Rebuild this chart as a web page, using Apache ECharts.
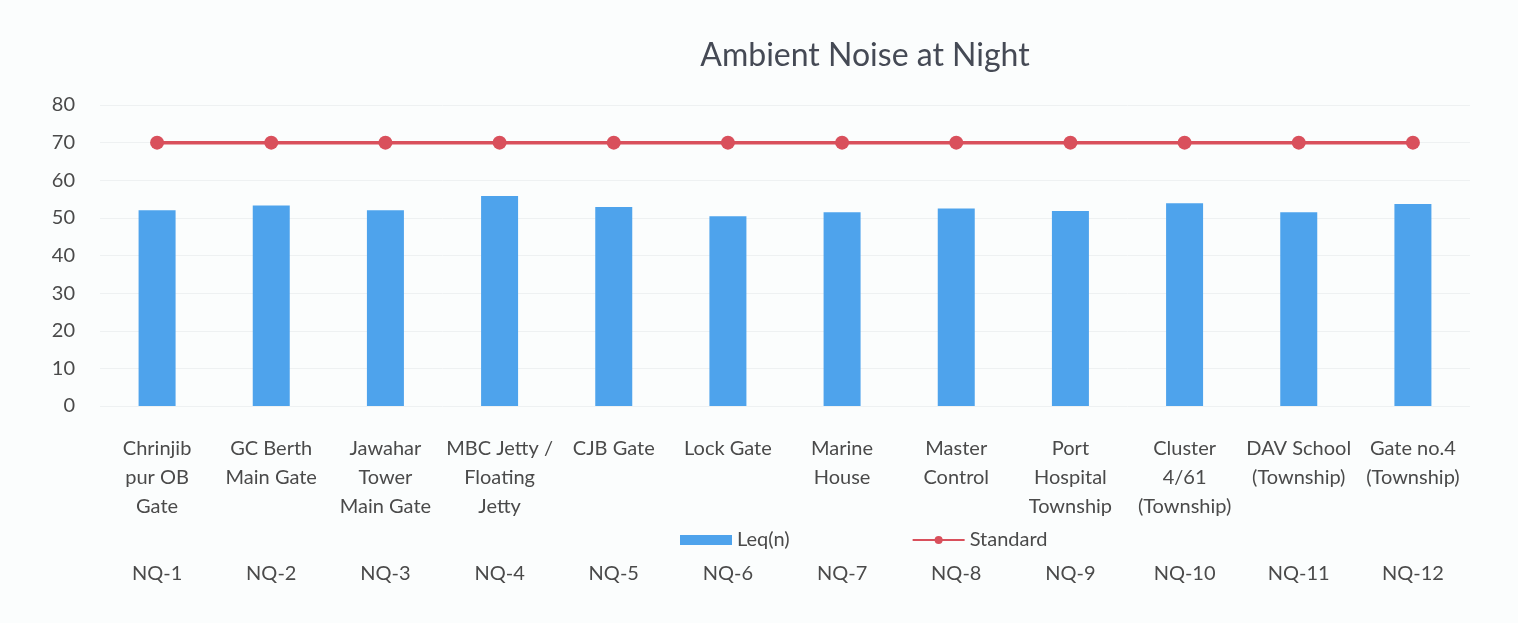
<!DOCTYPE html>
<html>
<head>
<meta charset="UTF-8"/>
<script src="https://cdn.jsdelivr.net/npm/echarts@6/dist/echarts.min.js"></script>
<style>
  html, body { margin: 0; padding: 0; background: #fbfdfd; }
  #c { width: 1518px; height: 623px; }
</style>
</head>
<body>
<div id="c"></div>
<script>
// site names (axis labels), station codes and readings
const sites = [
  "Chrinjib\npur OB\nGate", "GC Berth\nMain Gate", "Jawahar\nTower\nMain Gate",
  "MBC Jetty /\nFloating\nJetty", "CJB Gate", "Lock Gate", "Marine\nHouse",
  "Master\nControl", "Port\nHospital\nTownship", "Cluster\n4/61\n(Township)",
  "DAV School\n(Township)", "Gate no.4\n(Township)"
];
const codes = ["NQ-1", "NQ-2", "NQ-3", "NQ-4", "NQ-5", "NQ-6", "NQ-7", "NQ-8", "NQ-9", "NQ-10", "NQ-11", "NQ-12"];
const leq = [52.0, 53.3, 52.0, 55.8, 52.9, 50.4, 51.5, 52.5, 51.8, 53.9, 51.5, 53.7];
const standard = [70, 70, 70, 70, 70, 70, 70, 70, 70, 70, 70, 70];
const yTicks = [0, 80, 10]; // min, max, interval

const font = "Lato";
const txt = "#4a4a4a";
const chart = echarts.init(document.getElementById("c"), null, { renderer: "canvas" });

chart.setOption({
  backgroundColor: "#fbfdfd",
  animation: false,
  textStyle: { fontFamily: font },
  title: {
    text: "Ambient Noise at Night",
    top: 35,
    left: 860,
    textAlign: "center",
    textStyle: { fontFamily: font, fontSize: 32, fontWeight: "normal", color: "#454a55" }
  },
  legend: {
    top: 525,
    left: 675,
    itemGap: 122,
    itemWidth: 52,
    itemHeight: 10,
    textStyle: { fontFamily: font, fontSize: 20, color: txt },
    data: [
      { name: "Leq(n)", icon: "rect" },
      { name: "Standard" }
    ]
  },
  grid: { left: 100, right: 48, top: 105, bottom: 217 },
  xAxis: [
    {
      type: "category",
      data: sites,
      axisLine: { show: false },
      axisTick: { show: false },
      axisLabel: {
        interval: 0, margin: 28, fontSize: 20, lineHeight: 29,
        color: txt, fontFamily: font
      }
    },
    {
      type: "category",
      data: codes,
      position: "bottom",
      axisLine: { show: false },
      axisTick: { show: false },
      axisLabel: {
        interval: 0, margin: 158, fontSize: 20, color: txt, fontFamily: font
      }
    }
  ],
  yAxis: {
    type: "value",
    min: yTicks[0], max: yTicks[1], interval: yTicks[2],
    axisLine: { show: false },
    axisTick: { show: false },
    axisLabel: { fontSize: 20, color: txt, margin: 25, fontFamily: font },
    splitLine: { lineStyle: { color: "#eef1f2", width: 1 } }
  },
  series: [
    {
      name: "Leq(n)",
      type: "bar",
      xAxisIndex: 0,
      data: leq,
      barWidth: 37,
      itemStyle: { color: "#4ea3ec" },
      z: 2
    },
    {
      name: "Standard",
      type: "line",
      xAxisIndex: 0,
      data: standard,
      symbol: "circle",
      symbolSize: 14,
      lineStyle: { color: "#d9505c", width: 3.5 },
      itemStyle: { color: "#d9505c" },
      z: 3
    }
  ]
});
</script>
</body>
</html>
